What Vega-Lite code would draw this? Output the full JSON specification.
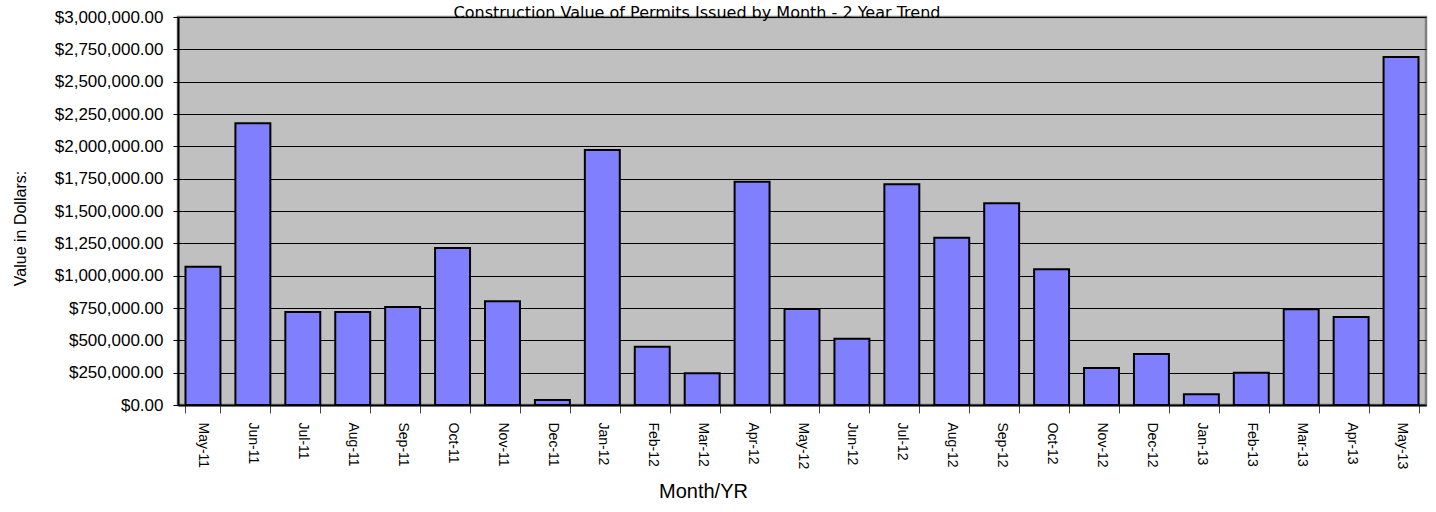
{
  "$schema": "https://vega.github.io/schema/vega-lite/v6.json",
  "width": 1248,
  "height": 388,
  "autosize": {"type": "none"},
  "padding": {"left": 178, "top": 17, "right": 10, "bottom": 107},
  "background": "white",
  "title": {
    "text": "Construction Value of Permits Issued by Month - 2 Year Trend",
    "font": "DejaVu Sans",
    "fontSize": 16,
    "fontWeight": "normal",
    "color": "#000000",
    "anchor": "middle",
    "dx": -105,
    "offset": 0,
    "dy": 26,
    "baseline": "alphabetic"
  },
  "data": {
    "values": [
      {"month": "May-11", "value": 1069000},
      {"month": "Jun-11", "value": 2178000},
      {"month": "Jul-11", "value": 719000},
      {"month": "Aug-11", "value": 719000},
      {"month": "Sep-11", "value": 758000},
      {"month": "Oct-11", "value": 1214000},
      {"month": "Nov-11", "value": 802000},
      {"month": "Dec-11", "value": 39000},
      {"month": "Jan-12", "value": 1972000},
      {"month": "Feb-12", "value": 451000},
      {"month": "Mar-12", "value": 245000},
      {"month": "Apr-12", "value": 1727000},
      {"month": "May-12", "value": 742000},
      {"month": "Jun-12", "value": 513000},
      {"month": "Jul-12", "value": 1706000},
      {"month": "Aug-12", "value": 1294000},
      {"month": "Sep-12", "value": 1559000},
      {"month": "Oct-12", "value": 1049000},
      {"month": "Nov-12", "value": 286000},
      {"month": "Dec-12", "value": 394000},
      {"month": "Jan-13", "value": 83000},
      {"month": "Feb-13", "value": 250000},
      {"month": "Mar-13", "value": 740000},
      {"month": "Apr-13", "value": 680000},
      {"month": "May-13", "value": 2691000}
    ]
  },
  "mark": {"type": "bar", "fill": "#8080FF", "stroke": "#000000", "strokeWidth": 2},
  "encoding": {
    "x": {
      "field": "month",
      "type": "nominal",
      "sort": null,
      "scale": {"paddingInner": 0.3, "paddingOuter": 0.15},
      "axis": {
        "title": "Month/YR",
        "titleFont": "Liberation Sans",
        "titleFontSize": 20,
        "titleFontWeight": "normal",
        "titleColor": "#000000",
        "titleX": 525,
        "titleY": 92,
        "titleAlign": "center",
        "titleBaseline": "alphabetic",
        "labelAngle": 90,
        "labelFont": "Liberation Sans",
        "labelFontSize": 14,
        "labelColor": "#000000",
        "labelPadding": 9,
        "tickBand": "extent",
        "tickSize": 8,
        "tickColor": "#444444",
        "domainColor": "#000000",
        "domainWidth": 2,
        "grid": false
      }
    },
    "y": {
      "field": "value",
      "type": "quantitative",
      "scale": {"domain": [0, 3000000], "nice": false},
      "axis": {
        "title": "Value in Dollars:",
        "titleFont": "Liberation Sans",
        "titleFontSize": 16,
        "titleFontWeight": "normal",
        "titleColor": "#000000",
        "titleX": -153,
        "titleY": 211,
        "titleAngle": -90,
        "titleAlign": "center",
        "titleBaseline": "alphabetic",
        "values": [0, 250000, 500000, 750000, 1000000, 1250000, 1500000, 1750000, 2000000, 2250000, 2500000, 2750000, 3000000],
        "format": "$,.2f",
        "labelFont": "Liberation Sans",
        "labelFontSize": 17,
        "labelColor": "#000000",
        "labelPadding": 10,
        "tickSize": 5,
        "tickColor": "#000000",
        "domainColor": "#000000",
        "domainWidth": 2,
        "grid": true,
        "gridColor": "#000000",
        "gridWidth": 1
      }
    }
  },
  "config": {
    "view": {"fill": "#C0C0C0", "stroke": "#808080", "strokeWidth": 2.5}
  }
}
